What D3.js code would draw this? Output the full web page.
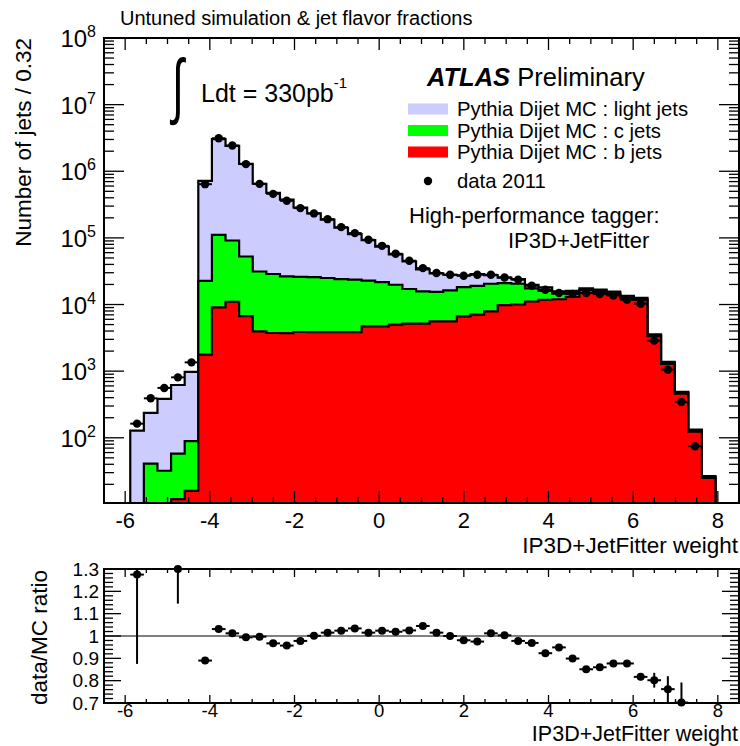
<!DOCTYPE html>
<html>
<head>
<meta charset="utf-8">
<script src="https://cdn.jsdelivr.net/npm/d3@7"></script>
<style>
  body { margin: 0; background: #fff; }
  svg { display: block; }
  text { font-family: "Liberation Sans", Arial, Helvetica, sans-serif; fill: #000; }
</style>
</head>
<body>
<svg id="chart" width="740" height="746"></svg>
<script>
// Binning of the IP3D+JetFitter weight histogram
const binLow = -5.88;
const binWidth = 0.3215;

// Pythia dijet MC, stacked by jet flavour (jets per bin)
const bJets = [0, 0, 0, 12, 16, 1770, 9060, 11000, 6700, 3950, 3740, 3730, 3870, 3850, 3850,
  3850, 3850, 4700, 4700, 4980, 5150, 5150, 5590, 5590, 6640, 7030, 7890, 9800, 10000, 11100,
  11800, 12000, 13000, 15000, 14800, 14200, 12400, 11700, 3350, 1290, 460, 124, 25];
const cJets = [0, 41, 32, 46, 73, 20930, 101900, 80400, 45900, 27350, 24960, 22670, 22130, 21950, 21150,
  20250, 19750, 18100, 17000, 14820, 11950, 10550, 9910, 10710, 11660, 12070, 12610, 11200, 10500, 6400,
  4200, 2500, 2000, 1500, 1200, 800, 600, 500, 130, 50, 17, 5, 0.8];
const lightJets = [128, 195, 351, 562, 883, 696300, 2929000, 2308600, 1237400, 617700, 445300, 349600, 260000, 207200, 163000,
  117900, 90400, 69500, 52500, 36900, 27200, 18000, 13800, 11700, 9200, 9600, 7200, 4400, 3600, 2200,
  2100, 1200, 1000, 1000, 700, 600, 500, 400, 100, 40, 14, 4, 0.7];

// data 2011 (jets per bin)
const data2011 = [163, 391, 560, 807, 1355, 640000, 3130000, 2430000, 1280000, 647000, 458000, 360000, 280000, 233000, 191000,
  145000, 118000, 93700, 76000, 57800, 45400, 35200, 29700, 28000, 27000, 28000, 28000, 25500, 23600, 19100,
  16700, 14900, 14400, 14900, 14400, 13700, 11800, 10300, 2870, 1052, 345, 74.6, null];

// data/MC ratio and its statistical uncertainty
const ratio = [1.275, null, null, 1.30, null, 0.890, 1.031, 1.012, 0.994, 0.997, 0.967, 0.957, 0.978, 1.001, 1.015,
  1.024, 1.034, 1.015, 1.024, 1.019, 1.025, 1.045, 1.015, 1.000, 0.981, 0.975, 1.012, 1.003, 0.978, 0.969,
  0.923, 0.949, 0.899, 0.851, 0.860, 0.877, 0.877, 0.817, 0.802, 0.762, 0.702, null, null];
const ratioErr = [0.40, 0, 0, 0.155, 0, 0.003, 0.002, 0.002, 0.002, 0.002, 0.003, 0.003, 0.003, 0.003, 0.003,
  0.003, 0.003, 0.003, 0.003, 0.003, 0.003, 0.003, 0.003, 0.003, 0.003, 0.003, 0.003, 0.003, 0.003, 0.003,
  0.004, 0.004, 0.004, 0.004, 0.004, 0.005, 0.006, 0.015, 0.033, 0.058, 0.09, 0, 0];

// Axis labels
const xTickValues = [-6, -4, -2, 0, 2, 4, 6, 8];
const xTickLabels = ["-6", "-4", "-2", "0", "2", "4", "6", "8"];
const decadeExponents = [2, 3, 4, 5, 6, 7, 8];
const ratioTickValues = [0.7, 0.8, 0.9, 1.0, 1.1, 1.2, 1.3];
const ratioTickLabels = ["0.7", "0.8", "0.9", "1", "1.1", "1.2", "1.3"];

// Legend entries
const legendEntries = [
  { key: "light", label: "Pythia Dijet MC : light jets" },
  { key: "c", label: "Pythia Dijet MC : c jets" },
  { key: "b", label: "Pythia Dijet MC : b jets" }
];
const colours = { light: "#ccccff", c: "#00ff00", b: "#ff0000" };

const svg = d3.select("#chart");
const frame = { left: 104, right: 739, top: 38, bottom: 503 };
const rFrame = { left: 104, right: 739, top: 569, bottom: 703 };

const x = d3.scaleLinear().domain([-6.5, 8.5]).range([frame.left, frame.right]);
const yMin = 10.5;
const y = d3.scaleLog().domain([yMin, 1e8]).range([frame.bottom, frame.top]).clamp(true);
const yr = d3.scaleLinear().domain([0.7, 1.3]).range([rFrame.bottom, rFrame.top]);

const nBins = bJets.length;
const edges = d3.range(nBins + 1).map(k => binLow + k * binWidth);
const centers = d3.range(nBins).map(k => binLow + (k + 0.5) * binWidth);

const defs = svg.append("defs");
defs.append("clipPath").attr("id", "clipTop").append("rect")
  .attr("x", frame.left).attr("y", frame.top)
  .attr("width", frame.right - frame.left).attr("height", frame.bottom - frame.top);
defs.append("clipPath").attr("id", "clipRatio").append("rect")
  .attr("x", rFrame.left).attr("y", rFrame.top)
  .attr("width", rFrame.right - rFrame.left).attr("height", rFrame.bottom - rFrame.top);

// ---------- stacked histogram ----------
const rows = d3.range(nBins).map(i => ({ b: bJets[i], c: cJets[i], light: lightJets[i] }));
const layers = d3.stack().keys(["b", "c", "light"])(rows);

function stepPoints(layer) {
  const pts = [[edges[0], yMin]];
  layer.forEach((d, i) => pts.push([edges[i], Math.max(d[1], yMin)]));
  pts.push([edges[nBins], yMin]);
  return pts;
}
const area = d3.area().x(d => x(d[0])).y0(frame.bottom).y1(d => y(d[1])).curve(d3.curveStepAfter);
const outline = d3.line().x(d => x(d[0])).y(d => y(d[1])).curve(d3.curveStepAfter);

const histG = svg.append("g").attr("clip-path", "url(#clipTop)");
[...layers].reverse().forEach(layer => {
  const pts = stepPoints(layer);
  histG.append("path").attr("d", area(pts)).attr("fill", colours[layer.key]);
  histG.append("path").attr("d", outline(pts)).attr("fill", "none")
    .attr("stroke", "#000").attr("stroke-width", 2.2);
});

// ---------- data points ----------
const dataG = svg.append("g");
data2011.forEach((v, i) => {
  if (v == null) return;
  dataG.append("line")
    .attr("x1", x(edges[i])).attr("x2", x(edges[i + 1]))
    .attr("y1", y(v)).attr("y2", y(v))
    .attr("stroke", "#000").attr("stroke-width", 2);
  dataG.append("circle").attr("cx", x(centers[i])).attr("cy", y(v)).attr("r", 4.2).attr("fill", "#000");
});

// ---------- frames and ticks ----------
function drawFrame(f) {
  svg.append("rect").attr("x", f.left).attr("y", f.top)
    .attr("width", f.right - f.left).attr("height", f.bottom - f.top)
    .attr("fill", "none").attr("stroke", "#000").attr("stroke-width", 2);
}
function tick(x1, y1, x2, y2, w) {
  svg.append("line").attr("x1", x1).attr("y1", y1).attr("x2", x2).attr("y2", y2)
    .attr("stroke", "#000").attr("stroke-width", w || 1.3);
}

// top panel x ticks
d3.range(-6, 8.01, 0.5).forEach(v => {
  const major = Math.abs(v % 2) < 1e-9;
  const len = major ? 12 : 6;
  tick(x(v), frame.bottom, x(v), frame.bottom - len);
  tick(x(v), frame.top, x(v), frame.top + len);
});
// top panel log y ticks
y.ticks().forEach(v => {
  const lg = Math.log10(v);
  const major = Math.abs(lg - Math.round(lg)) < 1e-9;
  const len = major ? 20 : 10;
  tick(frame.left, y(v), frame.left + len, y(v));
  tick(frame.right, y(v), frame.right - len, y(v));
});
drawFrame(frame);

// ratio panel
svg.append("line").attr("x1", rFrame.left).attr("x2", rFrame.right)
  .attr("y1", yr(1)).attr("y2", yr(1)).attr("stroke", "#000").attr("stroke-width", 1.2);

const ratioG = svg.append("g");
const errG = ratioG.append("g").attr("clip-path", "url(#clipRatio)");
ratio.forEach((r, i) => {
  if (r == null) return;
  errG.append("line")
    .attr("x1", x(edges[i])).attr("x2", x(edges[i + 1]))
    .attr("y1", yr(r)).attr("y2", yr(r))
    .attr("stroke", "#000").attr("stroke-width", 2);
  if (ratioErr[i] > 0.005) {
    errG.append("line")
      .attr("x1", x(centers[i])).attr("x2", x(centers[i]))
      .attr("y1", yr(r - ratioErr[i])).attr("y2", yr(r + ratioErr[i]))
      .attr("stroke", "#000").attr("stroke-width", 2);
  }
  ratioG.append("circle").attr("cx", x(centers[i])).attr("cy", yr(r)).attr("r", 4).attr("fill", "#000");
});

d3.range(-6, 8.01, 0.5).forEach(v => {
  const major = Math.abs(v % 2) < 1e-9;
  const len = major ? 8 : 4;
  tick(x(v), rFrame.bottom, x(v), rFrame.bottom - len);
  tick(x(v), rFrame.top, x(v), rFrame.top + len);
});
d3.range(0.7, 1.3001, 0.02).forEach(v => {
  const major = Math.abs(Math.round(v * 10) - v * 10) < 1e-6;
  const len = major ? 17 : 9;
  tick(rFrame.left, yr(v), rFrame.left + len, yr(v));
  tick(rFrame.right, yr(v), rFrame.right - len, yr(v));
});
drawFrame(rFrame);

// ---------- tick labels ----------
xTickValues.forEach((v, i) => {
  svg.append("text").attr("x", x(v)).attr("y", 528).attr("text-anchor", "middle")
    .attr("font-size", 22).text(xTickLabels[i]);
  svg.append("text").attr("x", x(v)).attr("y", 717).attr("text-anchor", "middle")
    .attr("font-size", 18.5).text(xTickLabels[i]);
});
decadeExponents.forEach(e => {
  const t = svg.append("text").attr("x", 96).attr("y", y(Math.pow(10, e)) + 9)
    .attr("text-anchor", "end").attr("font-size", 24);
  t.append("tspan").text("10");
  t.append("tspan").attr("dy", -10).attr("font-size", 16).text(String(e));
});
ratioTickValues.forEach((v, i) => {
  svg.append("text").attr("x", 99).attr("y", yr(v) + 6.5).attr("text-anchor", "end")
    .attr("font-size", 19).text(ratioTickLabels[i]);
});

// ---------- axis titles ----------
svg.append("text").attr("x", 738).attr("y", 553).attr("text-anchor", "end")
  .attr("font-size", 22.5).text("IP3D+JetFitter weight");
svg.append("text").attr("x", 738).attr("y", 741).attr("text-anchor", "end")
  .attr("font-size", 21.5).text("IP3D+JetFitter weight");
svg.append("text").attr("transform", "translate(31,38) rotate(-90)").attr("text-anchor", "end")
  .attr("font-size", 22.5).text("Number of jets / 0.32");
svg.append("text").attr("transform", "translate(47,570) rotate(-90)").attr("text-anchor", "end")
  .attr("font-size", 22.5).text("data/MC ratio");

// ---------- title and annotations ----------
svg.append("text").attr("x", 120).attr("y", 25).attr("font-size", 20)
  .text("Untuned simulation & jet flavor fractions");

// integral sign, narrowed horizontally
svg.append("text").attr("transform", "translate(172,110) scale(0.6,1)").attr("font-size", 72)
  .attr("font-family", "DejaVu Sans").attr("font-weight", 200).text("∫");
const lum = svg.append("text").attr("x", 201).attr("y", 102).attr("font-size", 25);
lum.append("tspan").text("Ldt = 330pb");
lum.append("tspan").attr("dy", -14).attr("font-size", 15).text("-1");

const atlas = svg.append("text").attr("x", 427).attr("y", 86).attr("font-size", 25.5);
atlas.append("tspan").attr("font-weight", "bold").attr("font-style", "italic").text("ATLAS");
atlas.append("tspan").text(" Preliminary");

legendEntries.forEach((e, i) => {
  const cy = 109 + i * 21.5;
  svg.append("rect").attr("x", 408).attr("y", cy - 5.5).attr("width", 40).attr("height", 11)
    .attr("fill", colours[e.key]);
  svg.append("text").attr("x", 457).attr("y", cy + 7).attr("font-size", 20.3).text(e.label);
});
svg.append("circle").attr("cx", 428).attr("cy", 181).attr("r", 4.2).attr("fill", "#000");
svg.append("text").attr("x", 457).attr("y", 188).attr("font-size", 20.3).text("data 2011");

svg.append("text").attr("x", 409).attr("y", 223).attr("font-size", 22).text("High-performance tagger:");
svg.append("text").attr("x", 508).attr("y", 248).attr("font-size", 22).text("IP3D+JetFitter");
</script>
</body>
</html>
